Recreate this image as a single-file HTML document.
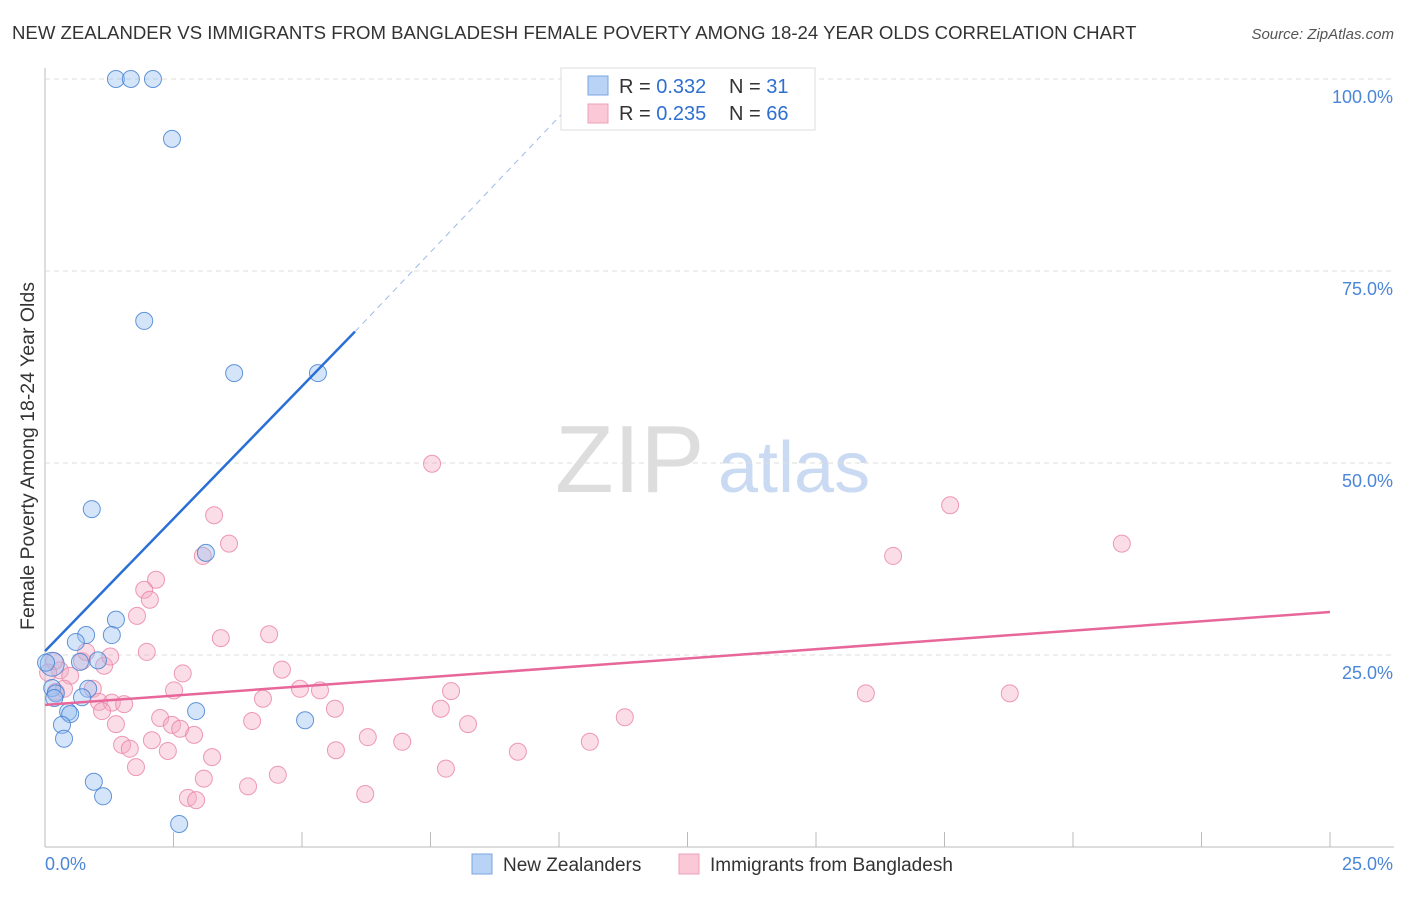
<!DOCTYPE html>
<html><head><meta charset="utf-8"><style>
body{margin:0;background:#fff;font-family:"Liberation Sans",sans-serif;}
svg text{font-family:"Liberation Sans",sans-serif;}
</style></head><body>
<svg id="chart" width="1406" height="892">
<text x="12" y="39" font-size="18.6" fill="#333">NEW ZEALANDER VS IMMIGRANTS FROM BANGLADESH FEMALE POVERTY AMONG 18-24 YEAR OLDS CORRELATION CHART</text>
<text x="1394" y="39" font-size="15" fill="#555" font-style="italic" text-anchor="end">Source: ZipAtlas.com</text>
<text x="555" y="492" font-size="96" fill="#ddd" font-family="Liberation Serif">ZIP</text>
<text x="718" y="492" font-size="72" fill="#c9daf2">atlas</text>
<text transform="translate(34,456) rotate(-90)" font-size="19.5" fill="#333" text-anchor="middle">Female Poverty Among 18-24 Year Olds</text>
<g id="grid"></g><g id="pts"></g><g id="lines"></g>
<g>
<rect x="561" y="68" width="254" height="62" fill="#fff" stroke="#ddd"/>
<rect x="588" y="76" width="20" height="19" fill="#b8d3f5" stroke="#7aa6e0"/>
<rect x="588" y="104" width="20" height="19" fill="#fac8d6" stroke="#eea0b8"/>
<text x="619" y="93" font-size="20" fill="#333">R = <tspan fill="#2f6fd0">0.332</tspan></text>
<text x="729" y="93" font-size="20" fill="#333">N = <tspan fill="#2f6fd0"> 31</tspan></text>
<text x="619" y="120" font-size="20" fill="#333">R = <tspan fill="#2f6fd0">0.235</tspan></text>
<text x="729" y="120" font-size="20" fill="#333">N = <tspan fill="#2f6fd0">66</tspan></text>
</g>
<g>
<rect x="472" y="854" width="20" height="20" fill="#b8d3f5" stroke="#7aa6e0"/>
<text x="503" y="871" font-size="19" fill="#333">New Zealanders</text>
<rect x="679" y="854" width="20" height="20" fill="#fac8d6" stroke="#eea0b8"/>
<text x="710" y="871" font-size="19" fill="#333">Immigrants from Bangladesh</text>
</g>
</svg>
<script>
const xTicks=[0,2.5,5,7.5,10,12.5,15,17.5,20,22.5,25];
const yTicks=[25,50,75,100];
const yTickLabels=["25.0%","50.0%","75.0%","100.0%"];
const blueX=[1.38,1.67,2.1,2.47,1.93,3.68,5.31,0.91,3.13,1.38,1.3,0.8,0.6,0.68,1.03,0.14,0.14,0.21,0.84,0.72,0.45,0.49,0.33,0.37,0.95,1.13,2.94,5.06,2.61,0.02,0.18];
const blueY=[100,100,100,92.2,68.5,61.7,61.7,44,38.3,29.6,27.6,27.6,26.7,24.1,24.3,23.8,20.7,20,20.6,19.5,17.6,17.3,15.9,14.1,8.5,6.6,17.7,16.5,3,24,19.4];
const pinkX=[7.53,17.61,16.5,20.95,3.29,3.58,3.07,2.16,1.93,1.79,3.42,4.36,1.98,1.15,0.72,1.27,0.29,0.49,0.21,0.93,1.05,1.3,1.54,1.11,1.38,1.5,1.65,1.77,2.08,2.24,2.39,2.47,2.63,2.9,3.25,3.09,2.78,2.94,2.51,2.68,4.03,3.95,4.24,4.53,4.61,4.96,5.35,5.64,5.66,6.28,6.23,6.95,7.7,7.9,8.23,7.8,9.2,10.6,11.28,15.97,18.77,0.18,0.06,0.37,0.8,2.04];
const pinkY=[49.9,44.5,37.9,39.5,43.2,39.5,37.9,34.8,33.5,30.1,27.2,27.7,25.4,23.6,24.2,24.8,23,22.3,20.2,20.6,18.9,18.8,18.6,17.7,16,13.3,12.8,10.4,13.9,16.8,12.5,15.9,15.4,14.6,11.7,8.9,6.4,6.1,20.4,22.6,16.4,7.9,19.3,9.4,23.1,20.6,20.4,18,12.6,14.3,6.9,13.7,18,20.3,16,10.2,12.4,13.7,16.9,20,20,24.2,22.7,20.6,25.4,32.2];
const blueLineX=[0,6.03],blueLineY=[25.5,67.1],blueDashX=[6.03,10.7],blueDashY=[67.1,100];
const pinkLineX=[0,25],pinkLineY=[18.5,30.6];
const sx=v=>45+v*51.4, sy=v=>847-v*7.68;
const NS="http://www.w3.org/2000/svg";
function mk(t,a,p){const e=document.createElementNS(NS,t);for(const k in a)e.setAttribute(k,a[k]);p.appendChild(e);return e;}
const g=document.getElementById('grid');
let ax=mk('line',{x1:45,y1:68,x2:45,y2:847,stroke:'#bbb'},g);


let bx=mk('line',{x1:45,y1:847,x2:1394,y2:847,stroke:'#bbb'},g);


yTicks.forEach((t,i)=>{
 const gl=mk('line',{x1:45,y1:sy(t),x2:1394,y2:sy(t),stroke:'#ddd','stroke-dasharray':'5,4'},g);
 
 
 const tx=mk('text',{x:1393,y:sy(t)+24,'font-size':18,fill:'#4a86d8','text-anchor':'end'},g);tx.textContent=yTickLabels[i];
 
 
});
xTicks.forEach(t=>{
 const tl=mk('line',{x1:sx(t),y1:832,x2:sx(t),y2:847,stroke:'#bbb'},g);
 
 
});
let l0=mk('text',{x:45,y:870,'font-size':18,fill:'#4a86d8'},g);l0.textContent='0.0%';


let l1=mk('text',{x:1393,y:870,'font-size':18,fill:'#4a86d8','text-anchor':'end'},g);l1.textContent='25.0%';


const p=document.getElementById('pts');
pinkX.forEach((x,i)=>{const c=mk('circle',{cx:sx(x),cy:sy(pinkY[i]),r:8.5,fill:'rgba(246,170,195,0.4)',stroke:'rgba(232,130,165,0.8)','stroke-width':1},p);
 
 });
blueX.forEach((x,i)=>{const c=mk('circle',{cx:sx(x),cy:sy(blueY[i]),r:(i==15?12:8.5),fill:'rgba(150,190,240,0.4)',stroke:'rgba(70,130,210,0.85)','stroke-width':1},p);
 
 });
const L=document.getElementById('lines');
let b=mk('line',{x1:sx(blueLineX[0]),y1:sy(blueLineY[0]),x2:sx(blueLineX[1]),y2:sy(blueLineY[1]),stroke:'#2a6fd6','stroke-width':2.5},L);


let bd=mk('line',{x1:sx(blueDashX[0]),y1:sy(blueDashY[0]),x2:sx(blueDashX[1]),y2:sy(blueDashY[1]),stroke:'#9bbbe8','stroke-width':1,'stroke-dasharray':'6,5'},L);


let pk=mk('line',{x1:sx(pinkLineX[0]),y1:sy(pinkLineY[0]),x2:sx(pinkLineX[1]),y2:sy(pinkLineY[1]),stroke:'#e8679a','stroke-width':2.5},L);


</script>
</body></html>
